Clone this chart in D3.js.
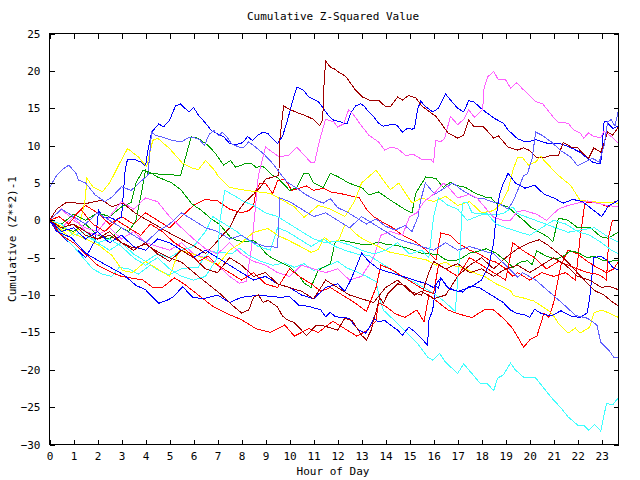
<!DOCTYPE html>
<html>
<head>
<meta charset="utf-8">
<script src="https://cdnjs.cloudflare.com/ajax/libs/d3/7.8.5/d3.min.js"></script>
<style>
	body{margin:0;background:#fff;}
	svg text{font-family:"DejaVu Sans Mono",monospace;font-size:11px;fill:#000;}
</style>
</head>
<body>
<svg id="svg" width="640" height="480"></svg>
<script>
// hour of day / cumulative (z^2)-1
var xTicks = d3.range(0, 24);
var yTicks = [-30, -25, -20, -15, -10, -5, 0, 5, 10, 15, 20, 25];
var xMax = 23.7;

var blueA = [[0,0],[0.5,-2],[1,-3.5],[1.5,-5],[1.9,-2.7],[2.05,1.3],[2.25,0.4],[2.6,0.3],[2.75,0],[3.0,0.4],[3.15,6.7],[3.25,8.2],[3.5,8.2],[3.8,7.8],[4.0,7.3],[4.1,9.4],[4.25,11.8],[4.55,12.9],[4.75,12.5],[5.0,13.4],[5.25,15.3],[5.45,15.6],[5.8,14.5],[6.0,15.1],[6.2,14.1],[6.5,13],[6.75,12],[7.25,11.2],[7.5,10.3],[7.75,10.1],[8.05,10.4],[8.25,11.2],[8.45,10.7],[8.67,11.4],[8.9,11.8],[9.1,11.6],[9.3,10.9],[9.5,10.3],[9.7,11.2],[9.9,13.2],[10.1,15.7],[10.3,17.8],[10.55,17.5],[10.8,16.5],[11.2,15.9],[11.4,15],[11.6,14.1],[11.83,13.4],[12.1,13.2],[12.25,13],[12.4,13],[12.54,14.3],[12.75,15.3],[12.96,15.6],[13.1,15.3],[13.3,14.5],[13.5,13.9],[13.7,13],[13.9,12.6],[14.2,12.8],[14.4,12.8],[14.5,12.6],[14.7,11.8],[14.9,12.3],[15.1,12.2],[15.2,12.3],[15.33,14.8],[15.46,16],[15.6,15.4],[15.96,14.5],[16.2,15],[16.4,16.3],[16.5,16.9],[16.7,16.1],[17,15],[17.25,14.5],[17.46,16],[17.67,15.9],[17.83,15.4],[18.04,14.8],[18.5,13.7],[18.9,13],[19.1,12.1],[19.5,10.9],[19.75,10.6],[20.05,10.6],[20.25,10.8],[20.75,10.3],[21.2,10.3],[21.5,10],[21.8,9.6],[22.1,9.1],[22.4,8.3],[22.67,7.7],[22.96,7.6],[23.1,13.2],[23.2,13.2],[23.46,12.3],[23.7,12.6]];
var blueB = [[0,0],[0.3,-1.5],[0.9,-2.3],[1.5,-4.4],[2.2,-5.7],[3.1,-7.3],[3.6,-8.7],[4.0,-9.3],[4.55,-11.1],[4.9,-10.7],[5.13,-10.3],[5.55,-8.9],[5.96,-10.3],[6.4,-10.5],[7,-10],[7.5,-11],[8,-10.3],[8.5,-10.1],[8.96,-10.1],[9.6,-10.3],[10,-10.2],[10.4,-11.4],[10.8,-11.5],[11.3,-12],[11.5,-12.9],[11.7,-12.3],[11.9,-12.9],[12.46,-13.1],[12.88,-14.7],[13.17,-15.1],[13.38,-14],[13.5,-13.1],[13.7,-13.6],[13.96,-13.4],[14.2,-14],[14.5,-14.7],[14.7,-15.4],[14.96,-14.3],[15.25,-15],[15.75,-16.7],[15.8,-13.4],[15.96,-12],[16.1,-8.8],[16.2,-9.1],[16.3,-7.7],[16.6,-9.1],[16.9,-9.4],[17.2,-9.6],[17.5,-8.8],[17.9,-9],[18.2,-9.6],[18.5,-10.2],[18.9,-11],[19.2,-12],[19.5,-12.5],[19.75,-12.6],[20,-13],[20.2,-11.9],[20.5,-12.5],[20.9,-12.8],[21.3,-12.1],[21.7,-12.8],[22.1,-13],[22.4,-12.4],[22.5,-10.4],[22.67,-5],[22.96,-4.8],[23.25,-5.4],[23.46,-6.3],[23.7,-6.7]];
var blueC = [[0,0],[0.5,-1.5],[1,-1],[1.5,-2.5],[2,-1.5],[2.5,-3],[3,-2],[3.5,-3.5],[4,-4],[4.5,-2.5],[5,-3],[5.5,-4],[6,-5],[6.5,-4],[7,-5],[7.5,-6],[8,-7],[8.5,-8],[9,-7.5],[9.5,-8.5],[10,-9],[10.5,-10],[11,-10.5],[11.5,-9],[12,-8.5],[12.3,-9.5],[12.55,-8],[12.8,-6],[13,-4.4],[13.3,-5.5],[13.7,-6.5],[14.2,-7],[14.7,-7.5],[15.2,-8],[15.7,-8.5],[16,-9],[16.3,-7.7],[16.6,-9],[17,-9.5],[17.5,-9],[18,-8],[18.3,-6],[18.5,-3],[18.6,0.5],[18.75,3.5],[18.9,4.9],[19.1,6.3],[19.4,5],[19.8,4.3],[20.2,4.7],[20.6,3.5],[21,3],[21.4,2.3],[21.8,2.8],[22.2,2.5],[22.6,1.5],[23,0.5],[23.3,2],[23.5,2.3],[23.7,2.7]];
var darkRedA = [[0,0],[0.3,1.5],[0.7,2.4],[1.2,2.3],[1.6,2.3],[2.2,2.7],[2.6,1.8],[3.05,2.3],[3.6,0.9],[4.3,-0.4],[5,-1.7],[5.7,-2.9],[6.1,-3.6],[6.5,-4.4],[6.8,-3.5],[7.2,-2],[7.5,-1],[7.8,1],[8.1,2.3],[8.5,3.5],[8.8,4.5],[9.0,5.5],[9.3,5.8],[9.55,6],[9.6,11],[9.75,15.3],[10.04,14.8],[10.33,14.4],[10.67,14],[11,13.5],[11.25,12.7],[11.38,13.4],[11.42,17.5],[11.5,21.3],[11.7,20.5],[11.9,20.2],[12.1,19.7],[12.33,19.3],[12.75,17.4],[13.04,16.5],[13.3,16.1],[13.7,16.1],[14,15.2],[14.2,15.2],[14.5,16.5],[14.7,16.1],[14.96,16.7],[15.25,16.4],[15.54,15.2],[16.1,13.9],[16.6,11.7],[17,11],[17.25,11.4],[17.46,13.4],[17.67,12.6],[18.04,12.6],[18.17,12.2],[18.5,11],[18.7,11.3],[19.1,9.8],[19.3,9.6],[19.5,9.4],[19.75,9.7],[19.96,9.4],[20.3,8.4],[20.6,8.4],[20.9,8.7],[21.2,8.7],[21.4,10.4],[21.8,9.7],[22,9.7],[22.2,9],[22.46,8.3],[22.67,9.7],[22.96,9.1],[23.25,11.8],[23.46,11.4],[23.7,12.5]];
var darkRedB = [[0,0],[0.5,-1],[1,-0.5],[1.5,-1.5],[2,-2.5],[2.5,-2],[3,-3],[3.5,-3.7],[4,-3.2],[4.5,-4.2],[5,-5],[5.5,-5.6],[5.9,-6.7],[6.4,-8],[7.1,-9.8],[7.7,-11.6],[8.0,-12.4],[8.3,-12],[8.5,-10.3],[8.7,-10],[8.9,-11],[9.1,-10.7],[9.5,-11.6],[9.7,-12.8],[9.9,-13.3],[10.2,-13.7],[10.7,-15.4],[11.1,-14.1],[11.4,-14.1],[11.7,-14.4],[12,-14.7],[12.3,-13.1],[12.6,-13.4],[13,-15.4],[13.2,-16],[13.4,-14.7],[13.5,-13.3],[13.6,-12.3],[13.75,-10.3],[13.9,-11.1],[14.1,-9.8],[14.5,-8.5],[14.8,-8.7],[15.2,-10],[15.5,-9.5],[16,-10.5],[16.5,-10],[17,-7.5],[17.5,-6],[18,-5],[18.5,-6.5],[19,-5],[19.5,-3.8],[20,-3],[20.4,-2.6],[20.75,-3.3],[21.3,-4.7],[21.7,-6],[22.1,-7.4],[22.4,-8.4],[22.7,-9.4],[23.1,-10],[23.4,-10.8],[23.7,-11.5]];
var darkRedC = [[0,0],[0.5,-1],[1,-0.5],[1.5,-2],[2,-2.5],[2.5,-1.5],[3,-3],[3.5,-4],[4,-3],[4.5,-4.5],[5,-5.5],[5.5,-4],[6,-5],[6.5,-6.5],[7,-7],[7.5,-5],[8,-6],[8.5,-7.5],[9,-7],[9.5,-8.5],[10,-9],[10.5,-9.5],[11,-10.5],[11.5,-8],[12,-9],[12.5,-10],[13,-10.5],[13.5,-11],[14,-9],[14.5,-8],[15,-9.5],[15.5,-10],[15.8,-7],[16,-5.5],[16.5,-6.5],[17,-5.8],[17.5,-7],[18,-6.5],[18.5,-7.5],[19,-6.5],[19.5,-6],[20,-7],[20.5,-6],[21,-5],[21.5,-6],[22,-7.5],[22.5,-8],[23,-9],[23.3,-8.8],[23.7,-9.3]];
var magentaA = [[0,0],[0.5,-1],[1,0.5],[1.5,-1.5],[2,-2],[2.5,-1],[3,-2.5],[3.5,-1.5],[4,-3],[4.5,-3.5],[5,-4],[5.5,-3],[6,-4.5],[6.5,-5],[7,-6],[7.5,-7.5],[7.9,-8.4],[8.2,-8.2],[8.4,-4],[8.55,0.7],[8.7,6],[9,9.8],[9.3,9.1],[9.55,8.5],[9.96,8.7],[10.3,9.8],[10.67,8.5],[10.9,7.7],[11.04,7.7],[11.25,10.7],[11.5,13.5],[11.83,13.2],[12,12.5],[12.25,12.9],[12.46,14.8],[12.67,14.1],[12.96,12.8],[13.3,11.4],[13.7,10.5],[13.96,9.4],[14.2,9.8],[14.5,9.6],[14.83,8.7],[15.17,8.8],[15.54,8.1],[15.9,8.1],[16,7.7],[16.08,10.7],[16.3,10.5],[16.46,11],[16.7,13.9],[17,12.8],[17.25,13.5],[17.46,14.8],[17.7,13.8],[18.04,14.8],[18.1,17.7],[18.25,19.2],[18.5,19.9],[18.7,18.8],[19,18.8],[19.2,17.7],[19.46,18.4],[19.7,17.6],[20.25,15.9],[20.54,15.6],[20.96,13.9],[21.2,13.1],[21.6,13],[21.83,12.1],[22.1,11.7],[22.25,11],[22.46,11.7],[22.67,11.2],[22.96,11.1],[23.1,11.9],[23.4,11.2],[23.7,10.3]];
var magentaB = [[0,0],[0.5,1.5],[1,0],[1.5,-1],[2,-1.5],[2.5,0.5],[3,2.5],[3.5,1.5],[4,3],[4.5,2.5],[5,0.5],[5.5,-1],[6,-2.5],[6.5,-3.8],[7,-4.5],[7.5,-3],[8,-4.5],[8.5,-5.5],[9,-6],[9.5,-7],[10,-7.5],[10.5,-6],[11,-6.5],[11.5,-7],[12,-6.5],[12.5,-8],[13,-7.5],[13.5,-5],[13.8,-2],[14.2,-1.5],[14.7,-2],[15,0.5],[15.3,1],[15.6,2.5],[16,3.5],[16.4,5],[16.6,4.5],[17,3],[17.5,3.5],[17.8,3],[18.2,1.5],[18.5,0.4],[18.9,0],[19.2,0],[19.5,1.2],[19.8,1.3],[20.3,0.8],[20.7,0],[21.2,1.5],[21.6,2],[22,2.3],[22.4,2.6],[22.8,2.3],[23.2,2],[23.7,1.8]];
var cyanA = [[0,0],[0.3,-1],[0.7,-2.5],[1.0,-3.5],[1.4,-5],[1.8,-6.5],[2.2,-7.2],[2.6,-7.5],[2.9,-6.3],[3.3,-6.5],[3.7,-7.2],[4.2,-6],[4.6,-6.8],[5.0,-7.3],[5.5,-6.5],[5.9,-6.3],[6.2,-6.3],[6.4,-5.1],[6.7,-4.2],[7.2,-4.3],[7.6,-4.5],[7.9,-3.7],[8.3,-4.7],[8.8,-5.5],[9.3,-6],[9.8,-5.7],[10.2,-6.3],[10.6,-5.8],[11,-6.7],[11.5,-6.2],[12,-5.5],[12.4,-6.4],[12.8,-6.9],[13.2,-7.5],[13.6,-8.2],[13.75,-10.5],[13.9,-12],[14.33,-13.3],[14.7,-14.5],[15,-15.4],[15.33,-16.5],[15.75,-18.3],[15.96,-18.7],[16.1,-18.3],[16.25,-17.8],[16.5,-19],[16.7,-19.6],[17,-20.5],[17.25,-19.2],[17.46,-20],[17.75,-21.1],[17.96,-21.9],[18.25,-21.9],[18.5,-22.8],[18.67,-21.1],[18.9,-20.7],[19.2,-19.1],[19.4,-20],[19.75,-21],[20.25,-21.1],[20.5,-22.1],[20.9,-23.7],[21.3,-25.1],[21.6,-26.3],[22,-27.4],[22.25,-27.4],[22.46,-28.1],[22.7,-27.3],[22.96,-28.2],[23.2,-24.5],[23.46,-24.7],[23.7,-23.7]];
var cyanB = [[0,0],[0.5,-0.5],[1,-2],[1.5,-1.5],[2,-3],[2.5,-4],[3,-3],[3.5,-4.5],[4,-5.5],[4.5,-4.5],[5,-5],[5.5,-4],[6,-3.5],[6.5,-1.5],[6.8,0.5],[7.3,-0.5],[7.8,-1.5],[8.2,-2.5],[8.7,-3.5],[9.2,-4],[9.5,-1],[9.9,-1.5],[10.4,-2.5],[10.9,-3.5],[11.4,-2.5],[11.9,-3.5],[12.3,-4],[12.8,-4.5],[13.3,-4.7],[13.7,-5.5],[14.2,-6.5],[14.7,-7.6],[15.2,-8.3],[15.6,-9],[16.1,-10],[16.5,-11],[16.9,-12.2],[17.1,-4],[17.2,2.3],[17.4,2.4],[17.6,1],[17.9,0.9],[18.4,0.7],[18.9,0.9],[19.3,1.8],[19.5,0.9],[19.9,0.4],[20.5,-0.3],[21,-0.9],[21.6,-1.6],[22.1,-1.3],[22.7,-1],[23.3,-2.3],[23.7,-2.9]];
var cyanC = [[0,0],[0.5,-1],[1,-0.5],[1.5,-2],[2,-3],[2.5,-2.5],[3,-3.5],[3.5,-5],[4,-6],[4.5,-5],[5,-6.5],[5.5,-7.5],[6,-8],[6.5,-7.5],[7,-5],[7.1,0],[7.3,4],[7.7,3.3],[8.1,2.5],[8.5,2],[9,1],[9.5,0.5],[10,-0.5],[10.5,-1.5],[11,-2.5],[11.5,-3],[12,-2.8],[12.5,-3.3],[13,-4],[13.5,-4.5],[14,-4],[14.5,-3],[15,-4.5],[15.5,-4],[15.8,-5],[16,0.5],[16.2,3],[16.6,2],[17,1.5],[17.4,0],[17.8,0.5],[18.2,1],[18.6,-0.5],[19,-1],[19.5,-1.5],[20,-2],[20.5,-1],[21,0],[21.5,-0.5],[22,-1.5],[22.5,-2],[23,-3],[23.4,-4],[23.7,-4.5]];
var greenA = [[0,0],[0.5,-1],[1,-1.5],[1.5,-0.5],[2,-2],[2.5,-2.5],[3,-1],[3.3,-1.5],[3.6,0],[3.85,4],[4.0,6.7],[4.1,6.3],[4.5,6.2],[5.0,6.1],[5.46,6],[5.75,9.4],[5.9,11.2],[6.0,11.1],[6.17,11],[6.58,10.1],[6.9,9],[7.25,7.4],[7.54,8],[7.75,7.1],[8.17,7.6],[8.4,7.6],[8.6,7.1],[8.9,7.2],[9.3,6],[9.5,5.7],[10,4],[10.3,4.4],[10.6,6.3],[10.8,6.3],[11,5],[11.4,4.4],[11.7,6.3],[12.04,5.8],[12.46,5],[13.04,4.3],[13.3,3.4],[13.7,3.8],[14.2,2.7],[14.83,1.4],[15.1,1],[15.25,3.6],[15.67,5.8],[16.1,5.6],[16.4,4.4],[16.7,5.1],[16.9,4.7],[17.33,4.4],[17.75,3.6],[18.17,3.1],[18.4,3],[18.6,2.3],[19.1,1.8],[19.33,1.1],[19.75,0],[20.04,-0.9],[20.75,-2.2],[20.96,-2.9],[21.2,0.3],[21.6,0],[22,-1],[22.5,-0.9],[22.96,-2.2],[23.25,-2.4],[23.7,-1.6]];
var greenB = [[0,0],[0.5,-0.5],[1,0.8],[1.5,0],[2,1],[2.5,0.5],[3,1.8],[3.4,2.4],[3.6,5],[3.9,6.7],[4.2,6.4],[4.5,5.8],[5.1,5],[5.5,4],[5.9,2.3],[6.1,1.8],[6.3,1.4],[6.7,0.3],[7.1,-0.6],[7.54,-2.3],[7.8,-2.7],[8.17,-2.9],[8.5,-2.7],[8.67,-3.1],[9,-4.4],[9.2,-4.9],[9.6,-5.6],[10.04,-6.3],[10.46,-7.7],[10.6,-8.4],[10.9,-9],[11,-8.1],[11.2,-6.7],[11.4,-6.3],[11.7,-5.8],[11.9,-2.9],[12.2,-2.7],[12.5,-2.9],[13,-3.2],[13.4,-3.2],[13.7,-2.9],[14,-3.2],[14.5,-3.4],[15,-3.8],[15.5,-4.4],[15.9,-4.5],[16.2,-4.6],[16.5,-5.3],[16.9,-5.4],[17.1,-5.2],[17.5,-4.4],[17.9,-4.1],[18.2,-3.8],[18.6,-4.4],[19,-5.4],[19.3,-6.3],[19.6,-5.6],[19.9,-5.4],[20.1,-5.9],[20.3,-4.1],[20.7,-4.8],[21.1,-5.2],[21.4,-4.8],[21.7,-4.1],[22,-4.3],[22.4,-5],[22.7,-4.8],[23.0,-5.3],[23.3,-5.5],[23.7,-5.3]];
var yellowA = [[0,0],[0.4,-1],[0.8,-2.2],[1.2,-1.2],[1.4,1.5],[1.5,3],[1.55,5.7],[1.8,4.5],[2.2,3.8],[2.5,5],[2.7,6.2],[2.9,7.5],[3.25,9.6],[3.7,8.5],[3.9,7.7],[4.05,7.2],[4.3,10.7],[4.5,11],[5.0,9.6],[5.55,7.6],[5.95,7],[6.2,6.8],[6.5,8],[6.9,6.6],[7.0,6],[7.5,4.4],[8.2,4],[9.2,3.6],[10.2,1.8],[10.6,0.4],[11.2,2],[11.7,1.5],[12.3,0.5],[12.7,2.5],[13.0,5],[13.6,6.7],[14.2,4.1],[14.55,5],[15.1,2.3],[15.5,3],[16,2.5],[16.5,3.2],[17,2],[17.5,2.5],[18,1],[18.5,1.3],[18.8,2.2],[19.1,4],[19.3,6.7],[19.5,8.4],[19.7,8.4],[19.95,7.4],[20.25,7.8],[20.46,8.6],[20.6,8],[21.2,6],[21.7,4.7],[22.1,2.7],[22.5,2.5],[23,2.4],[23.7,2.3]];
var yellowB = [[0,0],[0.5,-0.8],[1,-1.8],[1.5,-2.5],[2.04,-3.3],[2.6,-4.7],[3.04,-6.7],[3.46,-7],[4,-5.5],[4.5,-6.5],[5,-7.5],[5.4,-4],[5.9,-4.4],[6.5,-5.2],[7,-6],[7.5,-4],[8,-3],[8.5,-1.6],[9.1,-1.1],[9.5,-2],[9.9,-2.6],[10.45,-3.5],[10.9,-4.3],[11.2,-3.9],[11.45,-2.3],[11.7,-2.9],[12.04,-2.7],[12.3,-0.6],[12.5,-1],[12.9,-2.2],[13.3,-2.9],[13.7,-3.5],[14.1,-4.2],[14.7,-4.6],[15.1,-4.9],[15.7,-5.3],[16.1,-6],[16.5,-5.6],[16.7,-6],[17.2,-6.3],[17.46,-6.7],[17.75,-7.1],[18.17,-7.6],[18.6,-8.5],[19.0,-9.1],[19.2,-9.4],[19.33,-10.1],[19.75,-10.4],[20.17,-10.8],[20.75,-12],[20.96,-12.6],[21.2,-13.8],[21.6,-15.1],[21.9,-14.4],[22.1,-15.1],[22.5,-14.3],[22.67,-12.4],[23.0,-12],[23.3,-12.4],[23.7,-13]];
var slateA = [[0,4.3],[0.25,5.8],[0.5,6.7],[0.8,7.4],[1.1,6.3],[1.2,5.4],[1.5,5],[1.9,3.4],[2.3,2.5],[2.6,3.1],[3,4.5],[3.4,4],[3.8,5.2],[4.1,6],[4.25,11.8],[4.4,11.4],[4.75,11.1],[5.1,10.7],[5.5,10.5],[5.75,11],[6.0,11.1],[6.25,10.8],[6.45,10],[6.65,11.5],[6.85,12],[7.05,11.3],[7.2,11.8],[7.4,11.1],[7.6,10.2],[7.9,9.8],[8.1,9.8],[8.3,10.5],[8.7,9.5],[8.95,8.8],[9.3,7.6],[9.6,6.3],[9.9,5.1],[10.3,4.3],[10.7,3.4],[11.1,2.7],[11.4,2.3],[11.7,2.9],[12,1.7],[12.4,1.1],[12.8,0.3],[13.2,-0.5],[13.6,0.2],[14,-0.8],[14.4,-1.3],[14.8,-0.7],[15.1,-1.5],[15.35,0.5],[15.45,2.5],[15.65,5],[16.05,3.5],[16.5,4.4],[16.8,5],[17.2,4],[17.75,3],[18.1,2.9],[18.4,2.5],[18.7,2.3],[19.1,1.5],[19.3,2.5],[19.5,4],[19.75,6],[19.9,6.2],[20.1,8.2],[20.25,11.8],[20.5,11.4],[20.9,10.5],[21.3,9.3],[21.7,8.5],[22.0,7.3],[22.3,7.8],[22.6,8.3],[22.9,7.8],[23.1,10],[23.25,13.2],[23.4,13.5],[23.55,12.6],[23.7,14.7]];
var slateB = [[0,0],[0.5,1.5],[1,0.5],[1.5,-0.5],[2,1],[2.5,0],[3,-1],[3.5,-2],[4,-3],[4.5,-1.5],[5,-0.5],[5.5,1],[6,0],[6.5,-1],[7,-1.5],[7.5,-2.5],[8,-2],[8.5,-3],[9,-3.5],[9.5,-3.6],[9.6,3],[10,2.5],[10.5,1.5],[11,0.5],[11.5,1],[12,0],[12.5,-1],[13,0.5],[13.5,-0.5],[14,-1.5],[14.5,-2.5],[15,-3],[15.5,-3.5],[16,-4],[16.5,-3],[17,-4],[17.5,-3.5],[18,-4],[18.5,-4.5],[19,-6],[19.5,-7.6],[19.7,-7],[20.25,-8],[20.9,-9.8],[21.5,-11.5],[21.9,-12.7],[22.4,-13.1],[22.8,-14],[22.96,-16.3],[23.3,-17.4],[23.5,-18.3],[23.7,-18.3]];
var redA = [[0,0],[0.5,1.5],[1,0.5],[1.5,2],[2,1],[2.5,-0.5],[3,0.5],[3.5,-0.5],[4,1],[4.5,0],[5,-1],[5.5,0.5],[6,2],[6.5,2.8],[7,2.6],[7.5,1.5],[8,1],[8.3,1.3],[8.5,1.9],[8.6,4],[8.75,4.9],[9.0,4.9],[9.3,3.6],[9.5,5.3],[9.8,5.5],[10.1,4],[10.4,4.3],[10.7,4.6],[11,4],[11.4,4.3],[11.7,3.8],[12.1,3.6],[12.5,3.3],[12.9,3],[13.2,1.5],[13.5,0.5],[13.9,-0.3],[14.3,-1],[14.7,-2],[15.25,-2.9],[15.7,-4],[16.1,-5.3],[16.3,-1.7],[16.7,-2],[17,-3],[17.5,-4],[17.9,-4.5],[18.3,-5.3],[18.6,-5.6],[19,-6.5],[19.3,-7.5],[19.5,-7],[20,-8],[20.5,-7],[21,-7.5],[21.5,-7],[21.9,-8],[22.0,-5.5],[22.1,-2.3],[22.3,2.3],[22.5,2.4],[22.8,2.4],[23.1,2],[23.3,1.8],[23.5,2.4],[23.7,2.7]];
var redB = [[0,0],[0.5,-2],[1,-3],[1.5,-4.5],[2,-6],[2.6,-7],[3,-7.5],[3.9,-8],[4.3,-9],[4.7,-9],[5.2,-7.7],[5.6,-8.5],[6.2,-10],[6.8,-11.5],[7.4,-12.5],[8,-13.3],[8.6,-14.5],[9.2,-15],[9.8,-14],[10.2,-15.5],[10.8,-14.5],[11.2,-15],[11.8,-13.5],[12.3,-14.5],[12.8,-15.5],[13.2,-14.8],[13.6,-13.5],[13.7,-11],[14,-11.5],[14.4,-12.5],[14.8,-13],[15.3,-12],[15.6,-13.6],[15.8,-10],[16.2,-11],[16.6,-12],[17,-12.5],[17.6,-13],[18.1,-12],[18.5,-12],[18.9,-13.1],[19.3,-14.5],[19.75,-17],[20.0,-16],[20.3,-15.5],[20.6,-12.4],[20.8,-13],[21,-11],[21.3,-6],[21.6,-4],[22,-4.5],[22.4,-5.5],[22.8,-6.3],[23.2,-7],[23.5,-6.5],[23.7,-5.5]];
var redC = [[0,0],[0.4,0.5],[0.8,-0.5],[1.3,1.5],[1.8,-0.5],[2.3,-1.5],[2.8,0],[3.3,-1],[3.8,-2],[4.2,-0.5],[4.7,-1.5],[5.2,-3],[5.7,-4],[6.2,-5.5],[6.6,-4.8],[7,-6],[7.5,-7],[8,-8],[8.5,-7],[9,-8.5],[9.5,-9],[10,-6.5],[10.4,-7.5],[10.9,-8.5],[11.3,-9.5],[11.7,-9],[12.2,-10],[12.7,-11],[13.2,-12.2],[13.6,-9],[13.8,-6],[14.2,-6.5],[14.7,-7.5],[15.2,-8.5],[15.7,-9.5],[16,-9.8],[16.2,-6],[16.5,-6.5],[17,-7.5],[17.5,-5],[18,-6],[18.5,-7],[19,-8],[19.3,-3],[19.7,-4],[20.2,-5],[20.7,-6.5],[21.2,-5.5],[21.6,-6],[22,-6.5],[22.4,-7],[22.8,-7.2],[23.0,-7.5],[23.2,-8],[23.3,-2],[23.45,0],[23.7,0]];

var series = [redA, greenA, blueA, magentaA, cyanA, darkRedA, yellowA, slateA,
	redB, greenB, blueB, magentaB, cyanB, darkRedB, yellowB, slateB,
	redC, blueC, cyanC, darkRedC];
var seriesColors = ["#ff0000", "#00a000", "#0000ff", "#ff60ff", "#40ffff", "#a00000", "#ffff00", "#6060ff",
	"#ff0000", "#00a000", "#0000ff", "#ff60ff", "#40ffff", "#a00000", "#ffff00", "#6060ff",
	"#ff0000", "#0000ff", "#40ffff", "#a00000"];

var svg = d3.select("#svg");
svg.append("rect").attr("width", 640).attr("height", 480).attr("fill", "#fff");

var x = d3.scaleLinear().domain([0, xMax]).range([49.5, 618.5]);
var y = d3.scaleLinear().domain([-30, 25]).range([444.5, 33.5]);

var line = d3.line().x(function(d){ return x(d[0]); }).y(function(d){ return y(d[1]); });

var plot = svg.append("g").attr("id", "data-lines");
for(var i = 0; i < series.length; i++){
	plot.append("path").datum(series[i]).attr("d", line)
		.attr("fill", "none").attr("stroke", seriesColors[i]).attr("stroke-width", 1)
		.attr("shape-rendering", "crispEdges");
}

// ticks point inward on all four sides, like gnuplot
function styleAxis(g){
	g.select(".domain").remove();
	g.selectAll(".tick line").attr("stroke", "#000").attr("shape-rendering", "crispEdges");
	g.selectAll(".tick text").attr("font-family", "DejaVu Sans Mono").attr("font-size", 11).attr("fill", "#000");
}
svg.append("g").attr("transform", "translate(0,444.5)")
	.call(d3.axisBottom(x).tickValues(xTicks).tickFormat(d3.format("d")).tickSizeInner(-5).tickSizeOuter(0).tickPadding(8))
	.call(styleAxis);
svg.append("g").attr("transform", "translate(0,33.5)")
	.call(d3.axisTop(x).tickValues(xTicks).tickFormat("").tickSizeInner(-5).tickSizeOuter(0))
	.call(styleAxis);
svg.append("g").attr("transform", "translate(49.5,0)")
	.call(d3.axisLeft(y).tickValues(yTicks).tickFormat(d3.format("d")).tickSizeInner(-5).tickSizeOuter(0).tickPadding(9))
	.call(styleAxis);
svg.append("g").attr("transform", "translate(618.5,0)")
	.call(d3.axisRight(y).tickValues(yTicks).tickFormat("").tickSizeInner(-5).tickSizeOuter(0))
	.call(styleAxis);

svg.append("rect").attr("x", 49.5).attr("y", 33.5).attr("width", 569).attr("height", 411)
	.attr("fill", "none").attr("stroke", "#000").attr("shape-rendering", "crispEdges");

svg.append("text").attr("x", 333).attr("y", 20).attr("text-anchor", "middle").attr("font-size", 11.5).text("Cumulative Z-Squared Value");
svg.append("text").attr("x", 333).attr("y", 475).attr("text-anchor", "middle").text("Hour of Day");
svg.append("text").attr("transform", "translate(16,239) rotate(-90)").attr("text-anchor", "middle").text("Cumulative (Z**2)-1");
</script>
</body>
</html>
